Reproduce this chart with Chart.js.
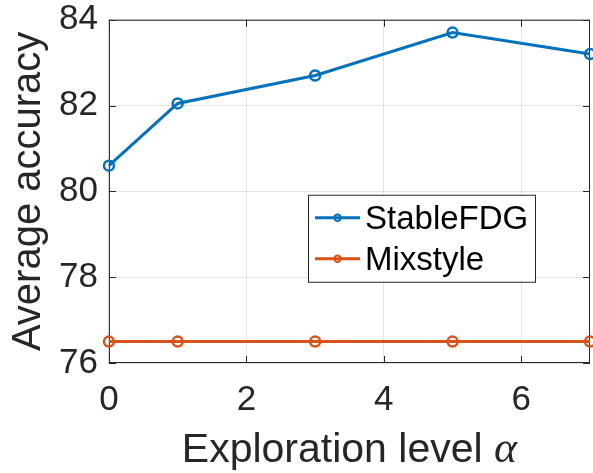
<!DOCTYPE html>
<html>
<head>
<meta charset="utf-8">
<script src="https://cdn.jsdelivr.net/npm/chart.js@4/dist/chart.umd.min.js"></script>
<style>
html,body{margin:0;padding:0;background:#fff;}
#wrap{width:593px;height:473px;position:relative;}
</style>
</head>
<body>
<div id="wrap"><canvas id="c" width="593" height="473"></canvas></div>
<script>
const xValues = [0, 1, 3, 5, 7];
const stableFDG = [80.6, 82.05, 82.7, 83.7, 83.2];
const mixstyle = [76.5, 76.5, 76.5, 76.5, 76.5];
const xTicks = [0, 2, 4, 6];
const yTicks = [76, 78, 80, 82, 84];
const seriesNames = ['StableFDG', 'Mixstyle'];
const xTitleText = 'Exploration level ';
const xTitleSymbol = 'α';
const yTitleText = 'Average accuracy';

const FONT = "'Liberation Sans', Arial, sans-serif";
const TXT = '#262626';
const colors = ['#0072BD', '#D95319'];

const toPts = arr => xValues.map((x, i) => ({x: x, y: arr[i]}));

const boxPlugin = {
  id: 'boxPlugin',
  beforeDatasetsDraw(chart) {
    const {ctx, chartArea: a, scales} = chart;
    ctx.save();
    ctx.strokeStyle = TXT;
    ctx.lineWidth = 1;
    ctx.strokeRect(a.left + 0.5, a.top + 0.5, a.right - a.left - 1, a.bottom - a.top - 1);
    const L = 7;
    ctx.beginPath();
    xTicks.forEach(v => {
      const px = Math.round(scales.x.getPixelForValue(v)) + 0.5;
      ctx.moveTo(px, a.bottom); ctx.lineTo(px, a.bottom - L);
      ctx.moveTo(px, a.top); ctx.lineTo(px, a.top + L);
    });
    yTicks.forEach(v => {
      const py = Math.round(scales.y.getPixelForValue(v)) + 0.5;
      ctx.moveTo(a.left, py); ctx.lineTo(a.left + L, py);
      ctx.moveTo(a.right, py); ctx.lineTo(a.right - L, py);
    });
    ctx.stroke();
    ctx.restore();
  },
  afterDraw(chart) {
    const {ctx, chartArea: a} = chart;
    ctx.save();
    // x title with italic alpha
    ctx.fillStyle = TXT;
    ctx.textBaseline = 'alphabetic';
    ctx.font = '41px ' + FONT;
    const w1 = ctx.measureText(xTitleText).width;
    ctx.font = 'italic 44px "Liberation Serif", "DejaVu Serif", serif';
    const w2 = ctx.measureText(xTitleSymbol).width;
    const cx = (a.left + a.right) / 2;
    const startX = cx - (w1 + w2) / 2;
    const baseY = 462;
    ctx.font = '41px ' + FONT;
    ctx.textAlign = 'left';
    ctx.fillText(xTitleText, startX, baseY);
    ctx.font = 'italic 44px "Liberation Serif", "DejaVu Serif", serif';
    ctx.fillText(xTitleSymbol, startX + w1, baseY);

    // legend
    const lx = a.right - 282, ly = a.top + 175, lw = 227, lh = 87;
    ctx.fillStyle = '#ffffff';
    ctx.fillRect(lx, ly, lw, lh);
    ctx.strokeStyle = '#262626';
    ctx.lineWidth = 1;
    ctx.strokeRect(lx + 0.5, ly + 0.5, lw, lh);
    ctx.font = '33px ' + FONT;
    ctx.textBaseline = 'middle';
    seriesNames.forEach((name, i) => {
      const yy = ly + 23 + i * 41;
      ctx.strokeStyle = colors[i];
      ctx.lineWidth = 3;
      ctx.beginPath();
      ctx.moveTo(lx + 7, yy); ctx.lineTo(lx + 52, yy);
      ctx.stroke();
      ctx.lineWidth = 2;
      ctx.beginPath();
      ctx.arc(lx + 29.5, yy, 3.2, 0, Math.PI * 2);
      ctx.stroke();
      ctx.fillStyle = '#000000';
      ctx.fillText(name, lx + 57, yy + 2);
    });
    ctx.restore();
  }
};

new Chart(document.getElementById('c'), {
  type: 'line',
  data: {
    datasets: [
      {label: seriesNames[0], data: toPts(stableFDG), borderColor: colors[0], backgroundColor: 'rgba(0,0,0,0)',
       borderWidth: 3, pointRadius: 5, pointBorderWidth: 2.5, pointBackgroundColor: 'rgba(0,0,0,0)', pointBorderColor: colors[0], clip: false, tension: 0},
      {label: seriesNames[1], data: toPts(mixstyle), borderColor: colors[1], backgroundColor: 'rgba(0,0,0,0)',
       borderWidth: 3, pointRadius: 5, pointBorderWidth: 2.5, pointBackgroundColor: 'rgba(0,0,0,0)', pointBorderColor: colors[1], clip: false, tension: 0}
    ]
  },
  options: {
    responsive: false,
    animation: false,
    events: [],
    layout: {autoPadding: false, padding: {left: 0, right: 3, top: 0, bottom: 36}},
    plugins: {legend: {display: false}, tooltip: {enabled: false}},
    scales: {
      x: {
        type: 'linear', min: 0, max: 7,
        afterBuildTicks: s => { s.ticks = xTicks.map(v => ({value: v})); },
        grid: {color: '#e3e3e3', lineWidth: 1, drawTicks: false},
        border: {display: false},
        ticks: {font: {size: 35, family: FONT}, color: TXT, padding: 16, maxRotation: 0, autoSkip: false}
      },
      y: {
        type: 'linear', min: 76, max: 84,
        afterBuildTicks: s => { s.ticks = yTicks.map(v => ({value: v})); },
        grid: {color: '#e3e3e3', lineWidth: 1, drawTicks: false},
        border: {display: false},
        ticks: {font: {size: 35, family: FONT, lineHeight: 0.5}, color: TXT, padding: 11, autoSkip: false},
        title: {display: true, text: yTitleText, font: {size: 40, family: FONT}, color: TXT, padding: {top: 5, bottom: -5}}
      }
    }
  },
  plugins: [boxPlugin]
});
</script>
</body>
</html>
